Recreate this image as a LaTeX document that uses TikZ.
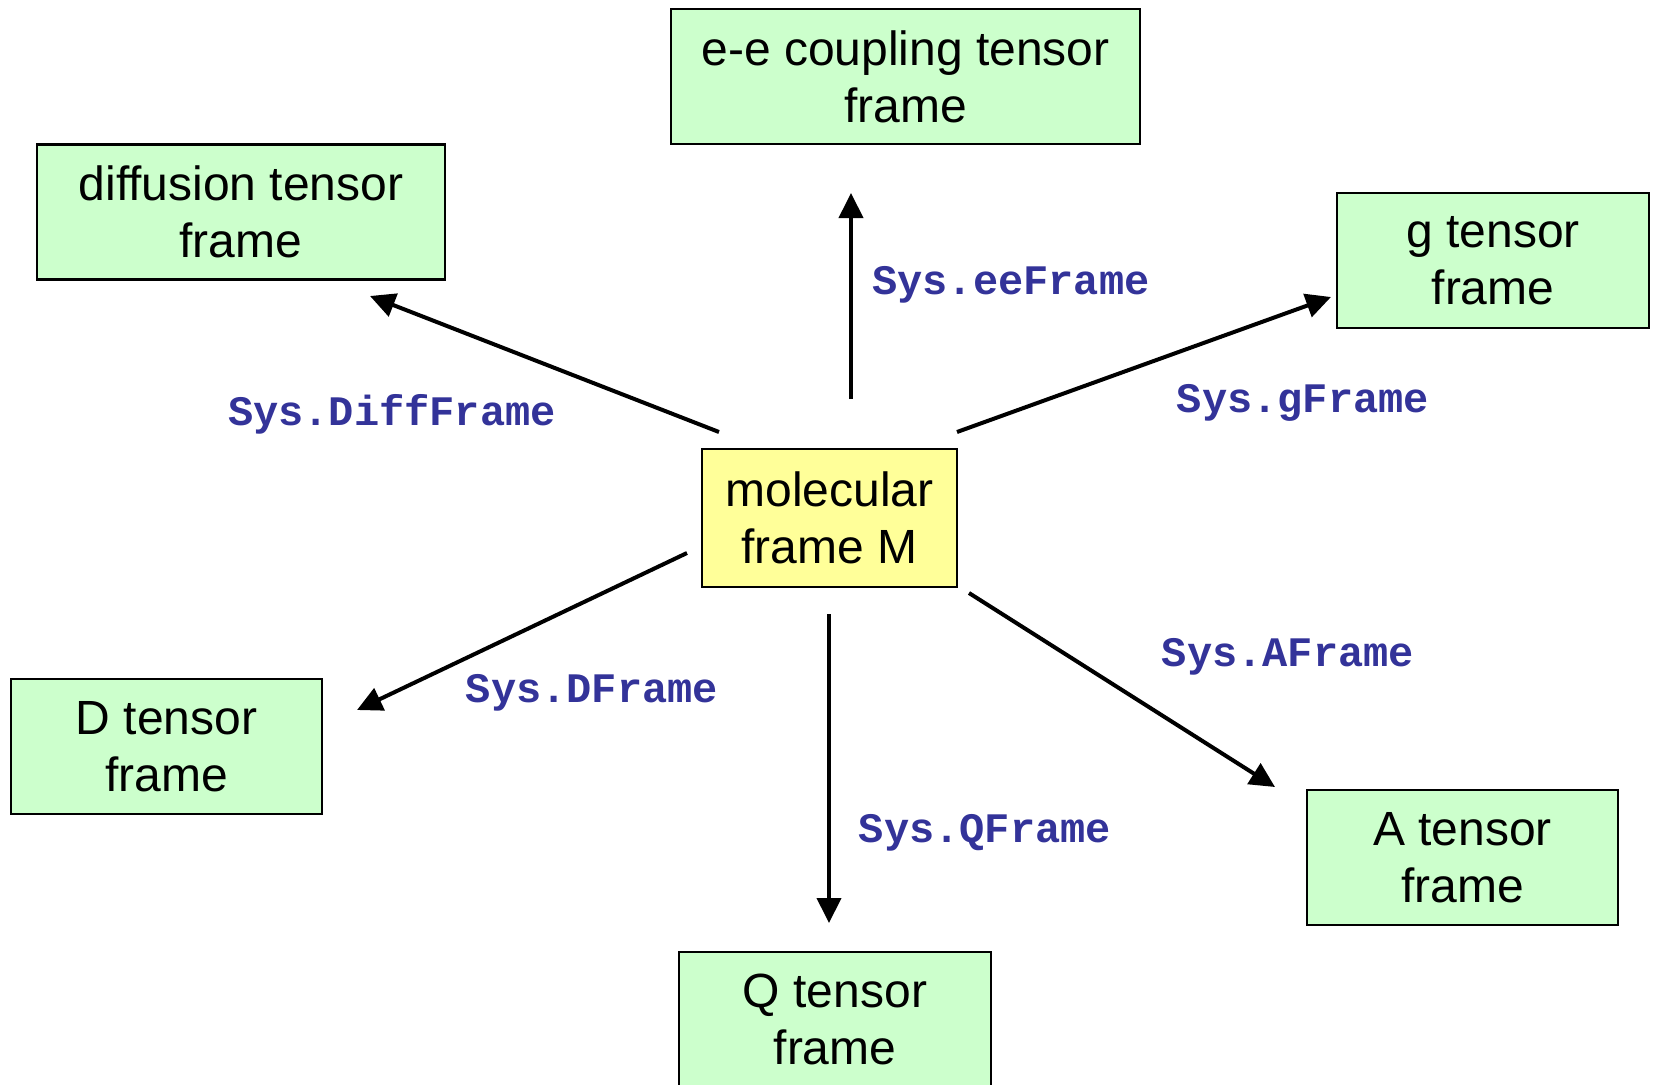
\documentclass[tikz,border=0pt]{standalone}
\usepackage{fontspec}
\setmainfont{Liberation Sans}
\newfontfamily\codefont{Liberation Mono}
\usetikzlibrary{arrows.meta}
\definecolor{boxgreen}{HTML}{CCFFCC}
\definecolor{boxyellow}{HTML}{FFFF99}
\definecolor{labblue}{HTML}{333399}
\tikzset{
  framebox/.style={draw=black, line width=2.5pt, fill=boxgreen, rectangle, inner sep=0pt,
    minimum height=135pt, align=center, font=\fontsize{48}{57}\selectfont},
  molbox/.style={framebox, fill=boxyellow, minimum height=138pt},
  rel/.style={line width=4pt, -{Triangle[length=25pt,width=24pt]}},
  syslab/.style={anchor=base, text=labblue, inner sep=0pt, font=\codefont\bfseries\fontsize{42}{42}\selectfont}
}
\begin{document}
\begin{tikzpicture}[x=1pt,y=-1pt]
\useasboundingbox (0,0) rectangle (1654,1084);
% nodes
\node[framebox, minimum width=469pt] (ee) at (905.5,76.5) {e-e coupling tensor\\frame};
\node[framebox, minimum width=408pt] (diff) at (241,212) {diffusion tensor\\frame};
\node[framebox, minimum width=312pt] (g) at (1493,260.5) {g tensor\\frame};
\node[molbox, minimum width=255pt] (mol) at (829.5,518) {molecular\\frame M};
\node[framebox, minimum width=311pt] (D) at (166.5,746.5) {D tensor\\frame};
\node[framebox, minimum width=311pt] (A) at (1462.5,857.5) {A tensor\\frame};
\node[framebox, minimum width=312pt] (Q) at (835,1019.5) {Q tensor\\frame};
% connector end points (arrows float between boxes)
\coordinate (eeS) at (851,399);   \coordinate (eeT) at (851,193);
\coordinate (diffS) at (719,432); \coordinate (diffT) at (370,296);
\coordinate (gS) at (957,432);    \coordinate (gT) at (1331,297);
\coordinate (DS) at (687,553);    \coordinate (DT) at (357,710);
\coordinate (QS) at (829,614);    \coordinate (QT) at (829,923);
\coordinate (AS) at (969,593);    \coordinate (AT) at (1275,787);
\draw[rel] (eeS) -- (eeT);
\draw[rel] (diffS) -- (diffT);
\draw[rel] (gS) -- (gT);
\draw[rel] (DS) -- (DT);
\draw[rel] (QS) -- (QT);
\draw[rel] (AS) -- (AT);
% labels
\node[syslab] (lee) at (1011,294) {Sys.eeFrame};
\node[syslab] (ldiff) at (392,425) {Sys.DiffFrame};
\node[syslab] (lg) at (1303,412) {Sys.gFrame};
\node[syslab] (lD) at (592,702) {Sys.DFrame};
\node[syslab] (lA) at (1288,666) {Sys.AFrame};
\node[syslab] (lQ) at (985,842) {Sys.QFrame};
\end{tikzpicture}
\end{document}
